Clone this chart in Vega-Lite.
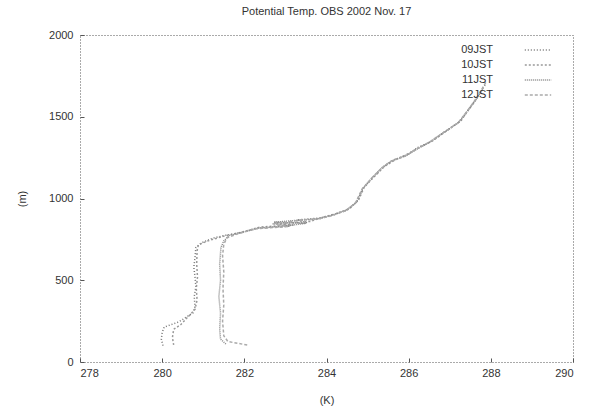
{
  "$schema": "https://vega.github.io/schema/vega-lite/v6.json",
  "width": 493,
  "height": 327,
  "autosize": {"type": "none"},
  "padding": {"left": 80, "top": 35, "right": 26, "bottom": 52},
  "background": "white",
  "title": {"text": "Potential Temp. OBS 2002 Nov. 17", "font": "Liberation Sans", "fontSize": 11, "fontWeight": "normal", "color": "#333", "offset": 12, "anchor": "middle"},
  "config": {
    "view": {"stroke": "#555", "strokeDash": [1, 2], "strokeWidth": 1},
    "axis": {"grid": false, "domain": false, "tickColor": "#555", "tickSize": -4, "labelFont": "Liberation Sans", "labelFontSize": 11, "labelColor": "#333", "titleFont": "Liberation Sans", "titleFontSize": 11, "titleFontWeight": "normal", "titleColor": "#333"}
  },
  "data": {"values": [
    {"t": "09JST", "K": 280.02, "m": 100}, {"t": "09JST", "K": 279.98, "m": 140}, {"t": "09JST", "K": 280.0, "m": 180}, {"t": "09JST", "K": 280.05, "m": 214}, {"t": "09JST", "K": 280.4, "m": 245}, {"t": "09JST", "K": 280.75, "m": 300}, {"t": "09JST", "K": 280.8, "m": 340}, {"t": "09JST", "K": 280.78, "m": 400}, {"t": "09JST", "K": 280.82, "m": 460}, {"t": "09JST", "K": 280.8, "m": 520}, {"t": "09JST", "K": 280.77, "m": 580}, {"t": "09JST", "K": 280.8, "m": 640}, {"t": "09JST", "K": 280.82, "m": 700}, {"t": "09JST", "K": 280.95, "m": 728}, {"t": "09JST", "K": 281.24, "m": 758}, {"t": "09JST", "K": 281.58, "m": 777}, {"t": "09JST", "K": 281.89, "m": 789}, {"t": "09JST", "K": 282.31, "m": 820}, {"t": "09JST", "K": 282.7, "m": 850}, {"t": "09JST", "K": 283.11, "m": 830}, {"t": "09JST", "K": 283.28, "m": 869}, {"t": "09JST", "K": 283.53, "m": 852}, {"t": "09JST", "K": 283.84, "m": 881}, {"t": "09JST", "K": 284.16, "m": 899}, {"t": "09JST", "K": 284.5, "m": 930}, {"t": "09JST", "K": 284.74, "m": 979}, {"t": "09JST", "K": 284.89, "m": 1064}, {"t": "09JST", "K": 285.13, "m": 1131}, {"t": "09JST", "K": 285.38, "m": 1193}, {"t": "09JST", "K": 285.62, "m": 1235}, {"t": "09JST", "K": 285.96, "m": 1266}, {"t": "09JST", "K": 286.2, "m": 1309}, {"t": "09JST", "K": 286.52, "m": 1346}, {"t": "09JST", "K": 286.76, "m": 1388}, {"t": "09JST", "K": 287.01, "m": 1431}, {"t": "09JST", "K": 287.23, "m": 1468}, {"t": "09JST", "K": 287.42, "m": 1529}, {"t": "09JST", "K": 287.54, "m": 1572}, {"t": "09JST", "K": 287.66, "m": 1615}, {"t": "09JST", "K": 287.74, "m": 1645}, {"t": "09JST", "K": 287.86, "m": 1694},

    {"t": "10JST", "K": 280.28, "m": 104}, {"t": "10JST", "K": 280.25, "m": 150}, {"t": "10JST", "K": 280.28, "m": 200}, {"t": "10JST", "K": 280.45, "m": 228}, {"t": "10JST", "K": 280.8, "m": 322}, {"t": "10JST", "K": 280.85, "m": 380}, {"t": "10JST", "K": 280.83, "m": 450}, {"t": "10JST", "K": 280.86, "m": 520}, {"t": "10JST", "K": 280.84, "m": 600}, {"t": "10JST", "K": 280.85, "m": 680}, {"t": "10JST", "K": 280.88, "m": 716}, {"t": "10JST", "K": 281.1, "m": 740}, {"t": "10JST", "K": 281.5, "m": 770}, {"t": "10JST", "K": 281.95, "m": 795}, {"t": "10JST", "K": 282.4, "m": 826}, {"t": "10JST", "K": 282.75, "m": 845}, {"t": "10JST", "K": 283.2, "m": 838}, {"t": "10JST", "K": 283.6, "m": 860}, {"t": "10JST", "K": 283.9, "m": 885}, {"t": "10JST", "K": 284.2, "m": 905}, {"t": "10JST", "K": 284.55, "m": 935}, {"t": "10JST", "K": 284.78, "m": 990}, {"t": "10JST", "K": 284.92, "m": 1070}, {"t": "10JST", "K": 285.18, "m": 1138}, {"t": "10JST", "K": 285.42, "m": 1198}, {"t": "10JST", "K": 285.7, "m": 1240}, {"t": "10JST", "K": 286.0, "m": 1275}, {"t": "10JST", "K": 286.28, "m": 1315}, {"t": "10JST", "K": 286.58, "m": 1352}, {"t": "10JST", "K": 286.82, "m": 1395}, {"t": "10JST", "K": 287.06, "m": 1438}, {"t": "10JST", "K": 287.28, "m": 1478}, {"t": "10JST", "K": 287.45, "m": 1540}, {"t": "10JST", "K": 287.6, "m": 1590}, {"t": "10JST", "K": 287.7, "m": 1630},

    {"t": "11JST", "K": 281.55, "m": 110}, {"t": "11JST", "K": 281.42, "m": 140}, {"t": "11JST", "K": 281.4, "m": 200}, {"t": "11JST", "K": 281.42, "m": 300}, {"t": "11JST", "K": 281.38, "m": 400}, {"t": "11JST", "K": 281.42, "m": 500}, {"t": "11JST", "K": 281.4, "m": 600}, {"t": "11JST", "K": 281.43, "m": 700}, {"t": "11JST", "K": 281.5, "m": 740}, {"t": "11JST", "K": 281.62, "m": 772}, {"t": "11JST", "K": 281.92, "m": 792}, {"t": "11JST", "K": 282.35, "m": 818}, {"t": "11JST", "K": 282.72, "m": 855}, {"t": "11JST", "K": 283.1, "m": 835}, {"t": "11JST", "K": 283.5, "m": 848}, {"t": "11JST", "K": 283.86, "m": 878}, {"t": "11JST", "K": 284.18, "m": 902}, {"t": "11JST", "K": 284.48, "m": 928}, {"t": "11JST", "K": 284.72, "m": 975}, {"t": "11JST", "K": 284.88, "m": 1060}, {"t": "11JST", "K": 285.12, "m": 1128}, {"t": "11JST", "K": 285.36, "m": 1190}, {"t": "11JST", "K": 285.6, "m": 1232}, {"t": "11JST", "K": 285.94, "m": 1262}, {"t": "11JST", "K": 286.22, "m": 1305}, {"t": "11JST", "K": 286.5, "m": 1342}, {"t": "11JST", "K": 286.74, "m": 1384}, {"t": "11JST", "K": 287.0, "m": 1428}, {"t": "11JST", "K": 287.22, "m": 1465}, {"t": "11JST", "K": 287.4, "m": 1525}, {"t": "11JST", "K": 287.55, "m": 1575}, {"t": "11JST", "K": 287.68, "m": 1620}, {"t": "11JST", "K": 287.8, "m": 1670},

    {"t": "12JST", "K": 282.07, "m": 104}, {"t": "12JST", "K": 281.6, "m": 125}, {"t": "12JST", "K": 281.5, "m": 160}, {"t": "12JST", "K": 281.47, "m": 250}, {"t": "12JST", "K": 281.5, "m": 350}, {"t": "12JST", "K": 281.48, "m": 450}, {"t": "12JST", "K": 281.5, "m": 550}, {"t": "12JST", "K": 281.47, "m": 650}, {"t": "12JST", "K": 281.5, "m": 720}, {"t": "12JST", "K": 281.58, "m": 760}, {"t": "12JST", "K": 281.85, "m": 785}, {"t": "12JST", "K": 282.28, "m": 815}, {"t": "12JST", "K": 282.68, "m": 846}, {"t": "12JST", "K": 283.05, "m": 828}, {"t": "12JST", "K": 283.3, "m": 865}, {"t": "12JST", "K": 283.82, "m": 876}, {"t": "12JST", "K": 284.14, "m": 896}, {"t": "12JST", "K": 284.46, "m": 925}, {"t": "12JST", "K": 284.7, "m": 970}, {"t": "12JST", "K": 284.86, "m": 1055}, {"t": "12JST", "K": 285.1, "m": 1125}, {"t": "12JST", "K": 285.34, "m": 1186}, {"t": "12JST", "K": 285.58, "m": 1230}, {"t": "12JST", "K": 285.92, "m": 1260}, {"t": "12JST", "K": 286.18, "m": 1302}, {"t": "12JST", "K": 286.48, "m": 1340}, {"t": "12JST", "K": 286.72, "m": 1382}, {"t": "12JST", "K": 286.98, "m": 1425}, {"t": "12JST", "K": 287.2, "m": 1462}, {"t": "12JST", "K": 287.38, "m": 1520}, {"t": "12JST", "K": 287.52, "m": 1568}, {"t": "12JST", "K": 287.64, "m": 1610}, {"t": "12JST", "K": 287.75, "m": 1655}, {"t": "12JST", "K": 287.9, "m": 1720}
  ]},
  "mark": {"type": "line", "strokeWidth": 1.5, "clip": true},
  "encoding": {
    "x": {"field": "K", "type": "quantitative", "scale": {"domain": [278, 290], "nice": false, "zero": false}, "axis": {"title": "(K)", "values": [278, 280, 282, 284, 286, 288, 290], "format": "d", "labelPadding": 9, "titlePadding": 16}},
    "y": {"field": "m", "type": "quantitative", "scale": {"domain": [0, 2000], "nice": false}, "axis": {"title": "(m)", "values": [0, 500, 1000, 1500, 2000], "format": "d", "labelPadding": 11, "titlePadding": 21}},
    "order": {"field": "m", "type": "quantitative"},
    "color": {"field": "t", "type": "nominal", "scale": {"domain": ["09JST", "10JST", "11JST", "12JST"], "range": ["#777", "#999", "#888", "#aaa"]}, "legend": {"title": null, "orient": "none", "legendX": 356, "legendY": 8, "symbolType": "M-2.2,0H2.2", "symbolSize": 144, "symbolStrokeWidth": 1.5, "symbolOffset": 95, "labelAlign": "right", "labelOffset": -52, "labelFont": "Liberation Sans", "labelFontSize": 11, "labelColor": "#333", "rowPadding": 3, "symbolDash": [1, 2]}},
    "strokeDash": {"field": "t", "type": "nominal", "scale": {"domain": ["09JST", "10JST", "11JST", "12JST"], "range": [[1, 2], [2, 2], [1, 1], [3, 2]]}, "legend": null}
  }
}
